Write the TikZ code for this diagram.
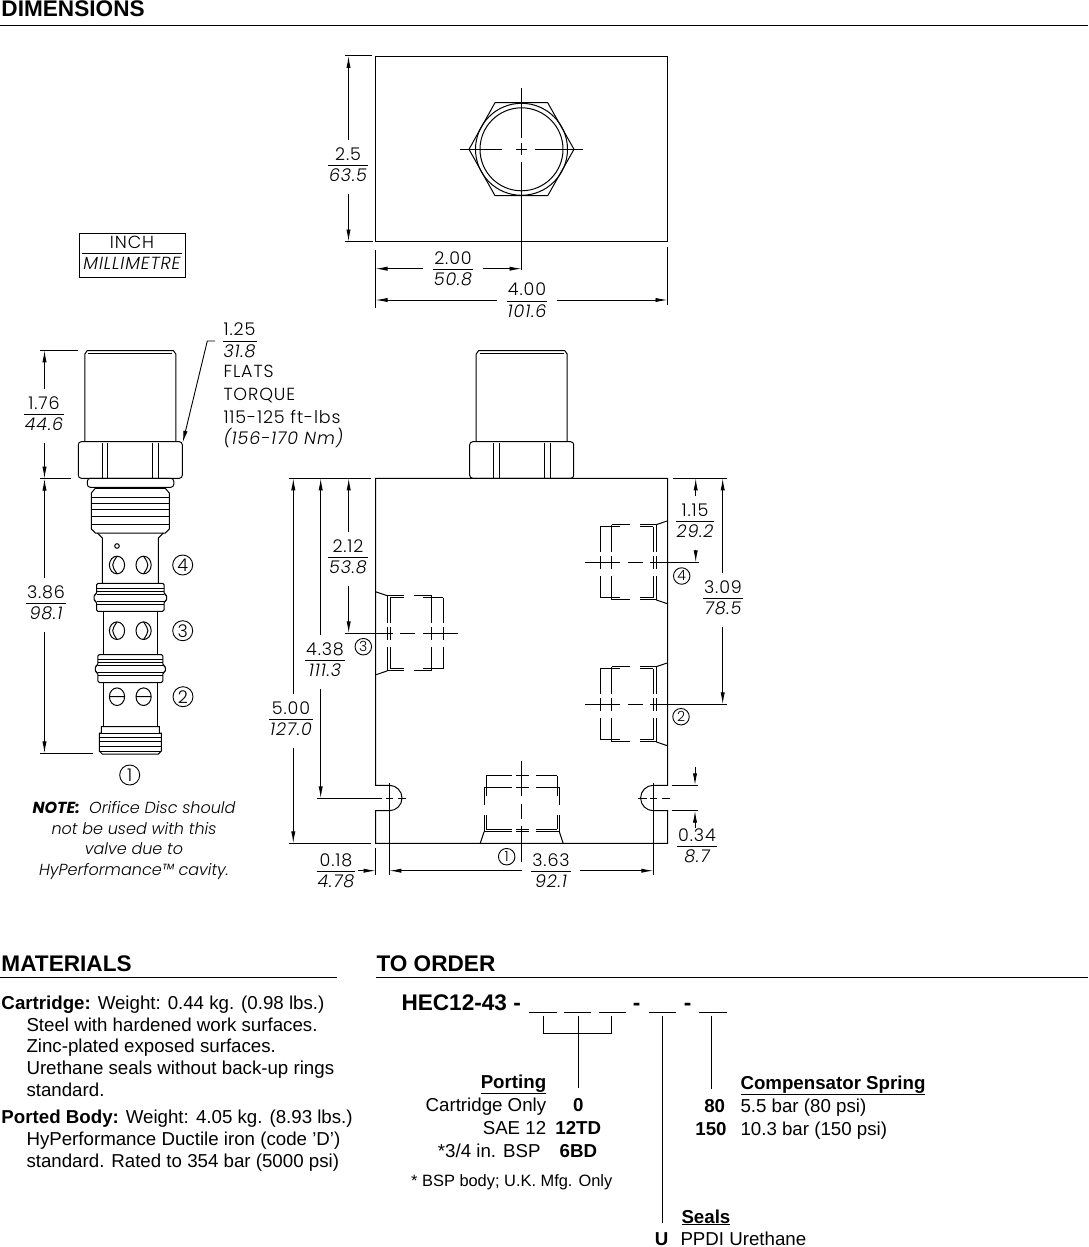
\documentclass[tikz,border=0pt]{standalone}
\usepackage{fontspec}
\setmainfont{Liberation Sans}
\newfontfamily\cad[LetterSpace=5,UprightFont=* Light,ItalicFont=* Light Italic]{Poppins}
\newfontfamily\cadnote[UprightFont=* Light,ItalicFont=* Light Italic,BoldItalicFont=* Bold Italic]{Poppins}
\usetikzlibrary{arrows.meta}

\newcommand{\frc}[2]{\renewcommand{\arraystretch}{0.85}\setlength{\arrayrulewidth}{0.9pt}%
  \begin{tabular}{@{\hspace{1pt}}c@{\hspace{1pt}}}#1\\\hline\rule{0pt}{15.5pt}\itshape #2\end{tabular}}

\tikzset{
  portcav/.pic={
    \foreach \sg in {-1,1} {
      \draw (0,\sg*41.5) -- (11.6,\sg*37.6);
      \draw (11.6,\sg*37.6) -- (28,\sg*37.6) (38,\sg*37.6) -- (56,\sg*37.6);
      \draw (14.3,\sg*35.5) -- (28,\sg*35.5) (47.7,\sg*35.5) -- (67.7,\sg*35.5);
    }
    \foreach \ux/\vend in {11.6/37.6,14.3/35.5,56/37.6,67.7/35.5} {
      \draw (\ux,-\vend) -- (\ux,-10) (\ux,-6) -- (\ux,7) (\ux,14) -- (\ux,\vend);
    }
    \draw (82.6,0) -- (47.7,0) (39.3,0) -- (24.3,0) (17.7,0) -- (0,0);
  },
  capnut/.pic={
    \draw (-45.5,441.7) -- (-45.5,354) -- (-43,350.5) -- (43,350.5) -- (45.5,354) -- (45.5,441.7);
    \draw (-42,353.5) -- (42,353.5);
    \draw[rounded corners=3pt] (-52,441.7) rectangle (52,478.3);
    \foreach \xa/\xb in {-28.3/-22.5,22.5/28.3} {
      \draw (\xa,442.5) -- (\xa,477.5) (\xb,442.5) -- (\xb,477.5);
    }
  }
}

\begin{document}
\begin{tikzpicture}[x=1pt,y=-1pt,line width=1pt,
    thinrule/.style={line width=0.9pt},
    dimline/.style={line width=0.9pt,-{Latex[length=12pt,width=4.2pt]}},
    extline/.style={line width=0.9pt},
    cadtxt/.style={font=\cad\fontsize{17.5}{18.5}\selectfont,inner sep=0pt},
    fractxt/.style={cadtxt,yshift=-2pt},
    dimtxt/.style={fractxt,inner xsep=9pt,inner ysep=7pt},
    portno/.style={cadtxt,draw,circle,line width=0.9pt,minimum size=20pt},
    portsm/.style={portno,font=\cad\fontsize{14}{16}\selectfont,minimum size=16.5pt},
    heading/.style={font=\bfseries\fontsize{22.6}{26}\selectfont,inner sep=0pt,anchor=base west},
    bodytxt/.style={font=\fontsize{18.7}{22}\selectfont,inner sep=0pt,anchor=base west},
    rightxt/.style={font=\fontsize{18.7}{22}\selectfont,inner sep=0pt,anchor=base east},
    codetxt/.style={font=\bfseries\fontsize{18.7}{22}\selectfont,inner sep=0pt,anchor=base}]
  \useasboundingbox (0,0) rectangle (1088,1247);

  % headings
  \node[heading] (dimhead) at (1,17) {DIMENSIONS};
  \node[heading] (mathead) at (1,971) {MATERIALS};
  \node[heading] (ordhead) at (376,971) {TO ORDER};
  \draw[thinrule] (0,25) -- (1088,25);
  \draw[thinrule] (0,977) -- (337,977);
  \draw[thinrule] (376,977) -- (1088,977);

  % key box
  \node[cadtxt,draw,line width=0.9pt,minimum width=106pt,minimum height=44pt] (keybox) at (132,255)
    {\raisebox{-2pt}{\frc{INCH}{MILLIMETRE}}};

  % top view
  \draw (375.5,56.5) rectangle (667.5,241.5);
  \draw (469,149.3) -- (495,102.7) -- (547.7,102.7) -- (574,149.3) -- (547.7,195.7) -- (495,195.7) -- cycle;
  \draw (521.5,149.3) circle[radius=46pt] circle[radius=41.5pt];
  \draw[extline] (460,149.3) -- (502,149.3) (516,149.3) -- (527,149.3) (535,149.3) -- (583,149.3);
  \draw[extline] (521.5,88) -- (521.5,138) (521.5,143) -- (521.5,155) (521.5,162) -- (521.5,270);
  \draw[extline] (345,55.8) -- (372,55.8) (345,241.5) -- (373,241.5);
  \draw[extline] (375.5,250) -- (375.5,308) (667.5,247) -- (667.5,305);

  % cartridge
  \pic at (130.3,0) {capnut};
  \begin{scope}[shift={(130.3,0)}]
    \draw[rounded corners=3pt] (-43,478.3) rectangle (43.5,487.3);
    \draw (-35,488.3) -- (-39,493) -- (-39,529) -- (-35,533) -- (35,533) -- (39,529) -- (39,493) -- (35,488.3) -- cycle;
    \foreach \yy in {497.3,503.3,509.3,516,524} {
      \draw (-38.5,\yy) -- (38.5,\yy);
    }
    \draw (-33,533) -- (-28,538) -- (-28,583) (33,533) -- (28,538) -- (28,583);
    \draw (-27,611.7) -- (-27,655) (27,611.7) -- (27,655);
    \draw (-27,682) -- (-27,726.7) (27,682) -- (27,726.7);
    \foreach \yo/\wd in {583.3/33.8,654.5/32.5} {
      \draw[rounded corners=1.5pt] (-\wd,\yo) -- (-\wd,\yo+11) -- (-\wd-2.5,\yo+11.5) -- (-\wd-2.5,\yo+17.5) -- (-\wd,\yo+18)
        -- (-\wd,\yo+28) -- (\wd,\yo+28) -- (\wd,\yo+18) -- (\wd+2.5,\yo+17.5) -- (\wd+2.5,\yo+11.5) -- (\wd,\yo+11) -- (\wd,\yo) -- cycle;
      \foreach \yy in {5,8,11,18,21} {
        \draw (-\wd,\yo+\yy) -- (\wd,\yo+\yy);
      }
    }
    \draw (-29,726.7) -- (29,726.7) -- (29,733) -- (31,733) -- (31,751) -- (28,754) -- (-28,754) -- (-31,751) -- (-31,733) -- (-29,733) -- cycle;
    \foreach \yy in {733,737,741.7,746.7,751} {
      \draw (-31,\yy) -- (31,\yy);
    }
    \draw (-13.3,546) circle[radius=2.3pt];
    \foreach \yy in {565,630.7} {
      \draw (-13.3,\yy) circle[x radius=7.6pt,y radius=8.8pt];
      \draw (13.3,\yy) circle[x radius=7.6pt,y radius=8.8pt];
      \draw (-13.3,\yy-8.8) .. controls (-19,\yy) .. (-13.3,\yy+8.8);
      \draw (13.3,\yy-8.8) .. controls (19,\yy) .. (13.3,\yy+8.8);
    }
    \draw (-13.3,696.7) circle[x radius=7.6pt,y radius=8.8pt] (-20.9,696.7) -- (-5.7,696.7);
    \draw (13.3,696.7) circle[x radius=7.6pt,y radius=8.8pt] (5.7,696.7) -- (20.9,696.7);
  \end{scope}
  \node[portno] (cart4) at (182.7,565) {4};
  \node[portno] (cart3) at (182.7,630.7) {3};
  \node[portno] (cart2) at (183,696.7) {2};
  \node[portno] (cart1) at (129.7,775) {1};
  \draw[extline] (40,350.3) -- (77.7,350.3) (40,478.7) -- (70.7,478.7) (40,753.3) -- (92.7,753.3);

  % flats leader
  \node[fractxt,anchor=west] (flatdim) at (222,340.5) {\frc{1.25}{31.8}};
  \coordinate (flatknee) at (207.3,341);
  \coordinate (flattip) at (182.7,442.7);
  \draw[dimline] (215,341) -- (flatknee) -- (flattip);
  \node[cadtxt,anchor=west] (flats) at (223,371.7) {FLATS};
  \node[cadtxt,anchor=west] (torque) at (223,396) {TORQUE};
  \node[cadtxt,anchor=west] (torqft) at (223,416.7) {115-125 ft-lbs};
  \node[cadtxt,anchor=west] (torqnm) at (223,438) {\itshape (156-170 Nm)};

  % note
  \node[inner sep=0pt,align=center,font=\cadnote\itshape\fontsize{16}{20.4}\selectfont] (note) at (134,840.5)
    {\textbf{NOTE:}\ \ Orifice Disc should\\not be used with this\\valve due to\\HyPerformance™ cavity.};

  % front view
  \pic at (521.7,0) {capnut};
  \draw (375.7,478.3) -- (375.7,785.3) -- (389.3,785.3) arc[start angle=90,end angle=-90,radius=12.7pt] -- (375.7,810.7)
    -- (375.7,843.3) -- (667.7,843.3) -- (667.7,810.7) -- (653.3,810.7) arc[start angle=270,end angle=90,radius=12.7pt]
    -- (667.7,785.3) -- (667.7,478.3) -- cycle;
  \pic at (375.7,633.3) {portcav};
  \pic[xscale=-1] at (667.7,562.3) {portcav};
  \pic[xscale=-1] at (667.7,704.3) {portcav};
  \pic[rotate=90] at (521.7,843.3) {portcav};
  \draw[extline] (345,633.3) -- (375.7,633.3);
  \draw[extline] (667.7,562.3) -- (699,562.3) (667.7,704.3) -- (726.7,704.3);
  \draw[extline] (521.7,843.3) -- (521.7,861.7);
  \draw[extline] (316.7,798.3) -- (381.7,798.3) (386,798.3) -- (393,798.3) (398,798.3) -- (405.7,798.3);
  \draw[extline] (389.3,783) -- (389.3,875) (653.3,782.7) -- (653.3,875);
  \draw[extline] (638,798.3) -- (647,798.3) (650,798.3) -- (657,798.3) (662,798.3) -- (670,798.3);
  \draw[extline] (375.7,848) -- (375.7,875);
  \draw[extline] (289.3,478.3) -- (370.7,478.3) (673.3,478.3) -- (727.3,478.3);
  \draw[extline] (289.3,843.3) -- (371,843.3);
  \draw[extline] (671.7,785.3) -- (698,785.3) (671.7,810.7) -- (698,810.7);
  \node[portsm] (body4) at (681.7,576) {4};
  \node[portsm] (body2) at (681,716.7) {2};
  \node[portsm] (body3) at (363.3,646.7) {3};
  \node[portsm] (body1) at (506.7,856.7) {1};

  % vertical dimensions
  \foreach \nm/\xl/\xt/\yt/\ya/\yb/\vi/\vm in {
      d25/348.5/348/165/56/241.5/2.5/63.5,
      d176/44.5/44/414/350.3/478.7/1.76/44.6,
      d386/44.5/46/603/478.7/753.3/3.86/98.1,
      d500/293.3/291/719/478.3/843.3/5.00/127.0,
      d438/320.7/325/660/478.3/798.3/4.38/111.3,
      d212/348.7/348/557/478.3/633.3/2.12/53.8,
      d115/695.7/695/521/478.3/562.3/1.15/29.2,
      d309/722.7/723/598/478.3/704.3/3.09/78.5} {
    \node[dimtxt] (\nm) at (\xt,\yt) {\frc{\vi}{\vm}};
    \coordinate (\nm top) at (\xl,\ya);
    \coordinate (\nm bot) at (\xl,\yb);
    \draw[dimline] (\nm.north -| \nm top) -- (\nm top);
    \draw[dimline] (\nm.south -| \nm bot) -- (\nm bot);
  }

  % horizontal dimensions
  \foreach \nm/\yl/\xt/\yt/\xa/\xb/\vi/\vm in {
      d200/268.7/453/269/375.5/521.5/2.00/50.8,
      d400/300/527/300.5/375.5/667.5/4.00/101.6,
      d363/870.7/551/871/389.3/653.3/3.63/92.1} {
    \node[dimtxt] (\nm) at (\xt,\yt) {\frc{\vi}{\vm}};
    \coordinate (\nm lft) at (\xa,\yl);
    \coordinate (\nm rgt) at (\xb,\yl);
    \draw[dimline] (\nm.west |- \nm lft) -- (\nm lft);
    \draw[dimline] (\nm.east |- \nm rgt) -- (\nm rgt);
  }

  % outside dimensions
  \node[fractxt] (d018) at (336,870.7) {\frc{0.18}{4.78}};
  \coordinate (d018tip) at (375.7,870.7);
  \draw[dimline] (358,870.7) -- (d018tip);
  \node[fractxt] (d034) at (697,846) {\frc{0.34}{8.7}};
  \coordinate (d034top) at (695,785.3);
  \coordinate (d034bot) at (695,810.7);
  \draw[dimline] (695,767) -- (d034top);
  \draw[dimline] (695,828) -- (d034bot);

  % materials
  \node[bodytxt] (mat1) at (1,1009) {\textbf{Cartridge:} Weight: 0.44 kg. (0.98 lbs.)};
  \node[bodytxt] (mat2) at (26,1031) {Steel with hardened work surfaces.};
  \node[bodytxt] (mat3) at (26,1052) {Zinc-plated exposed surfaces.};
  \node[bodytxt] (mat4) at (26,1074) {Urethane seals without back-up rings};
  \node[bodytxt] (mat5) at (26,1096) {standard.};
  \node[bodytxt] (mat6) at (1,1123) {\textbf{Ported Body:} Weight:\ \hspace{2pt}4.05 kg. (8.93 lbs.)};
  \node[bodytxt] (mat7) at (26,1145) {HyPerformance Ductile iron (code 'D')};
  \node[bodytxt] (mat8) at (26,1167) {standard. Rated to 354 bar (5000 psi)};

  % order code
  \node[heading] (code) at (401,1010) {HEC12-43 -};
  \node[heading,anchor=base] (dasha) at (636.7,1010) {-};
  \node[heading,anchor=base] (dashb) at (687.7,1010) {-};
  \foreach \nm/\xa/\xb in {blanka/529.3/556.7,blankb/564/591.3,blankc/599/626,blankd/649.3/675.7,blanke/699.3/726.7} {
    \coordinate (\nm l) at (\xa,1012.3);
    \coordinate (\nm r) at (\xb,1012.3);
    \draw[thinrule] (\nm l) -- (\nm r);
  }
  \coordinate (brka) at (543.3,1015.7);
  \coordinate (brkb) at (578.3,1015.7);
  \coordinate (brkc) at (611.3,1015.7);
  \coordinate (sealtop) at (662.7,1015.7);
  \coordinate (springtop) at (711.3,1015.7);
  \node[rightxt] (porthead) at (546.7,1088) {\underline{\textbf{Porting}}};
  \node[rightxt] (portcart) at (546.7,1111) {Cartridge Only};
  \node[rightxt] (portsae) at (546.7,1134) {SAE 12};
  \node[rightxt] (portbsp) at (541,1157) {*3/4 in. BSP};
  \node[codetxt] (code0) at (578.3,1111) {0};
  \node[codetxt] (code12) at (578.3,1134) {12TD};
  \node[codetxt] (code6) at (578.3,1157) {6BD};
  \node[bodytxt,font=\fontsize{16.4}{18}\selectfont] (bspnote) at (410.7,1186) {* BSP body; U.K. Mfg. Only};
  \node[bodytxt] (springhead) at (740,1089) {\underline{\textbf{Compensator Spring}}};
  \node[codetxt] (code80) at (714.7,1112) {80};
  \node[codetxt] (code150) at (711,1135) {150};
  \node[bodytxt] (spring80) at (740,1112) {5.5 bar (80 psi)};
  \node[bodytxt] (spring150) at (740,1135) {10.3 bar (150 psi)};
  \node[bodytxt] (sealhead) at (681,1223) {\underline{\textbf{Seals}}};
  \node[codetxt] (codeu) at (661.7,1245) {U};
  \node[bodytxt] (sealu) at (680,1245) {PPDI Urethane};
  \draw[thinrule] (brka) -- (brka |- 0,1033.3) -- (brkc |- 0,1033.3) -- (brkc);
  \draw[thinrule] (brkb) -- (porthead.base -| brkb);
  \draw[thinrule] (sealtop) -- (sealhead.base -| sealtop);
  \draw[thinrule] (springtop) -- (springhead.base -| springtop);
\end{tikzpicture}
\end{document}
